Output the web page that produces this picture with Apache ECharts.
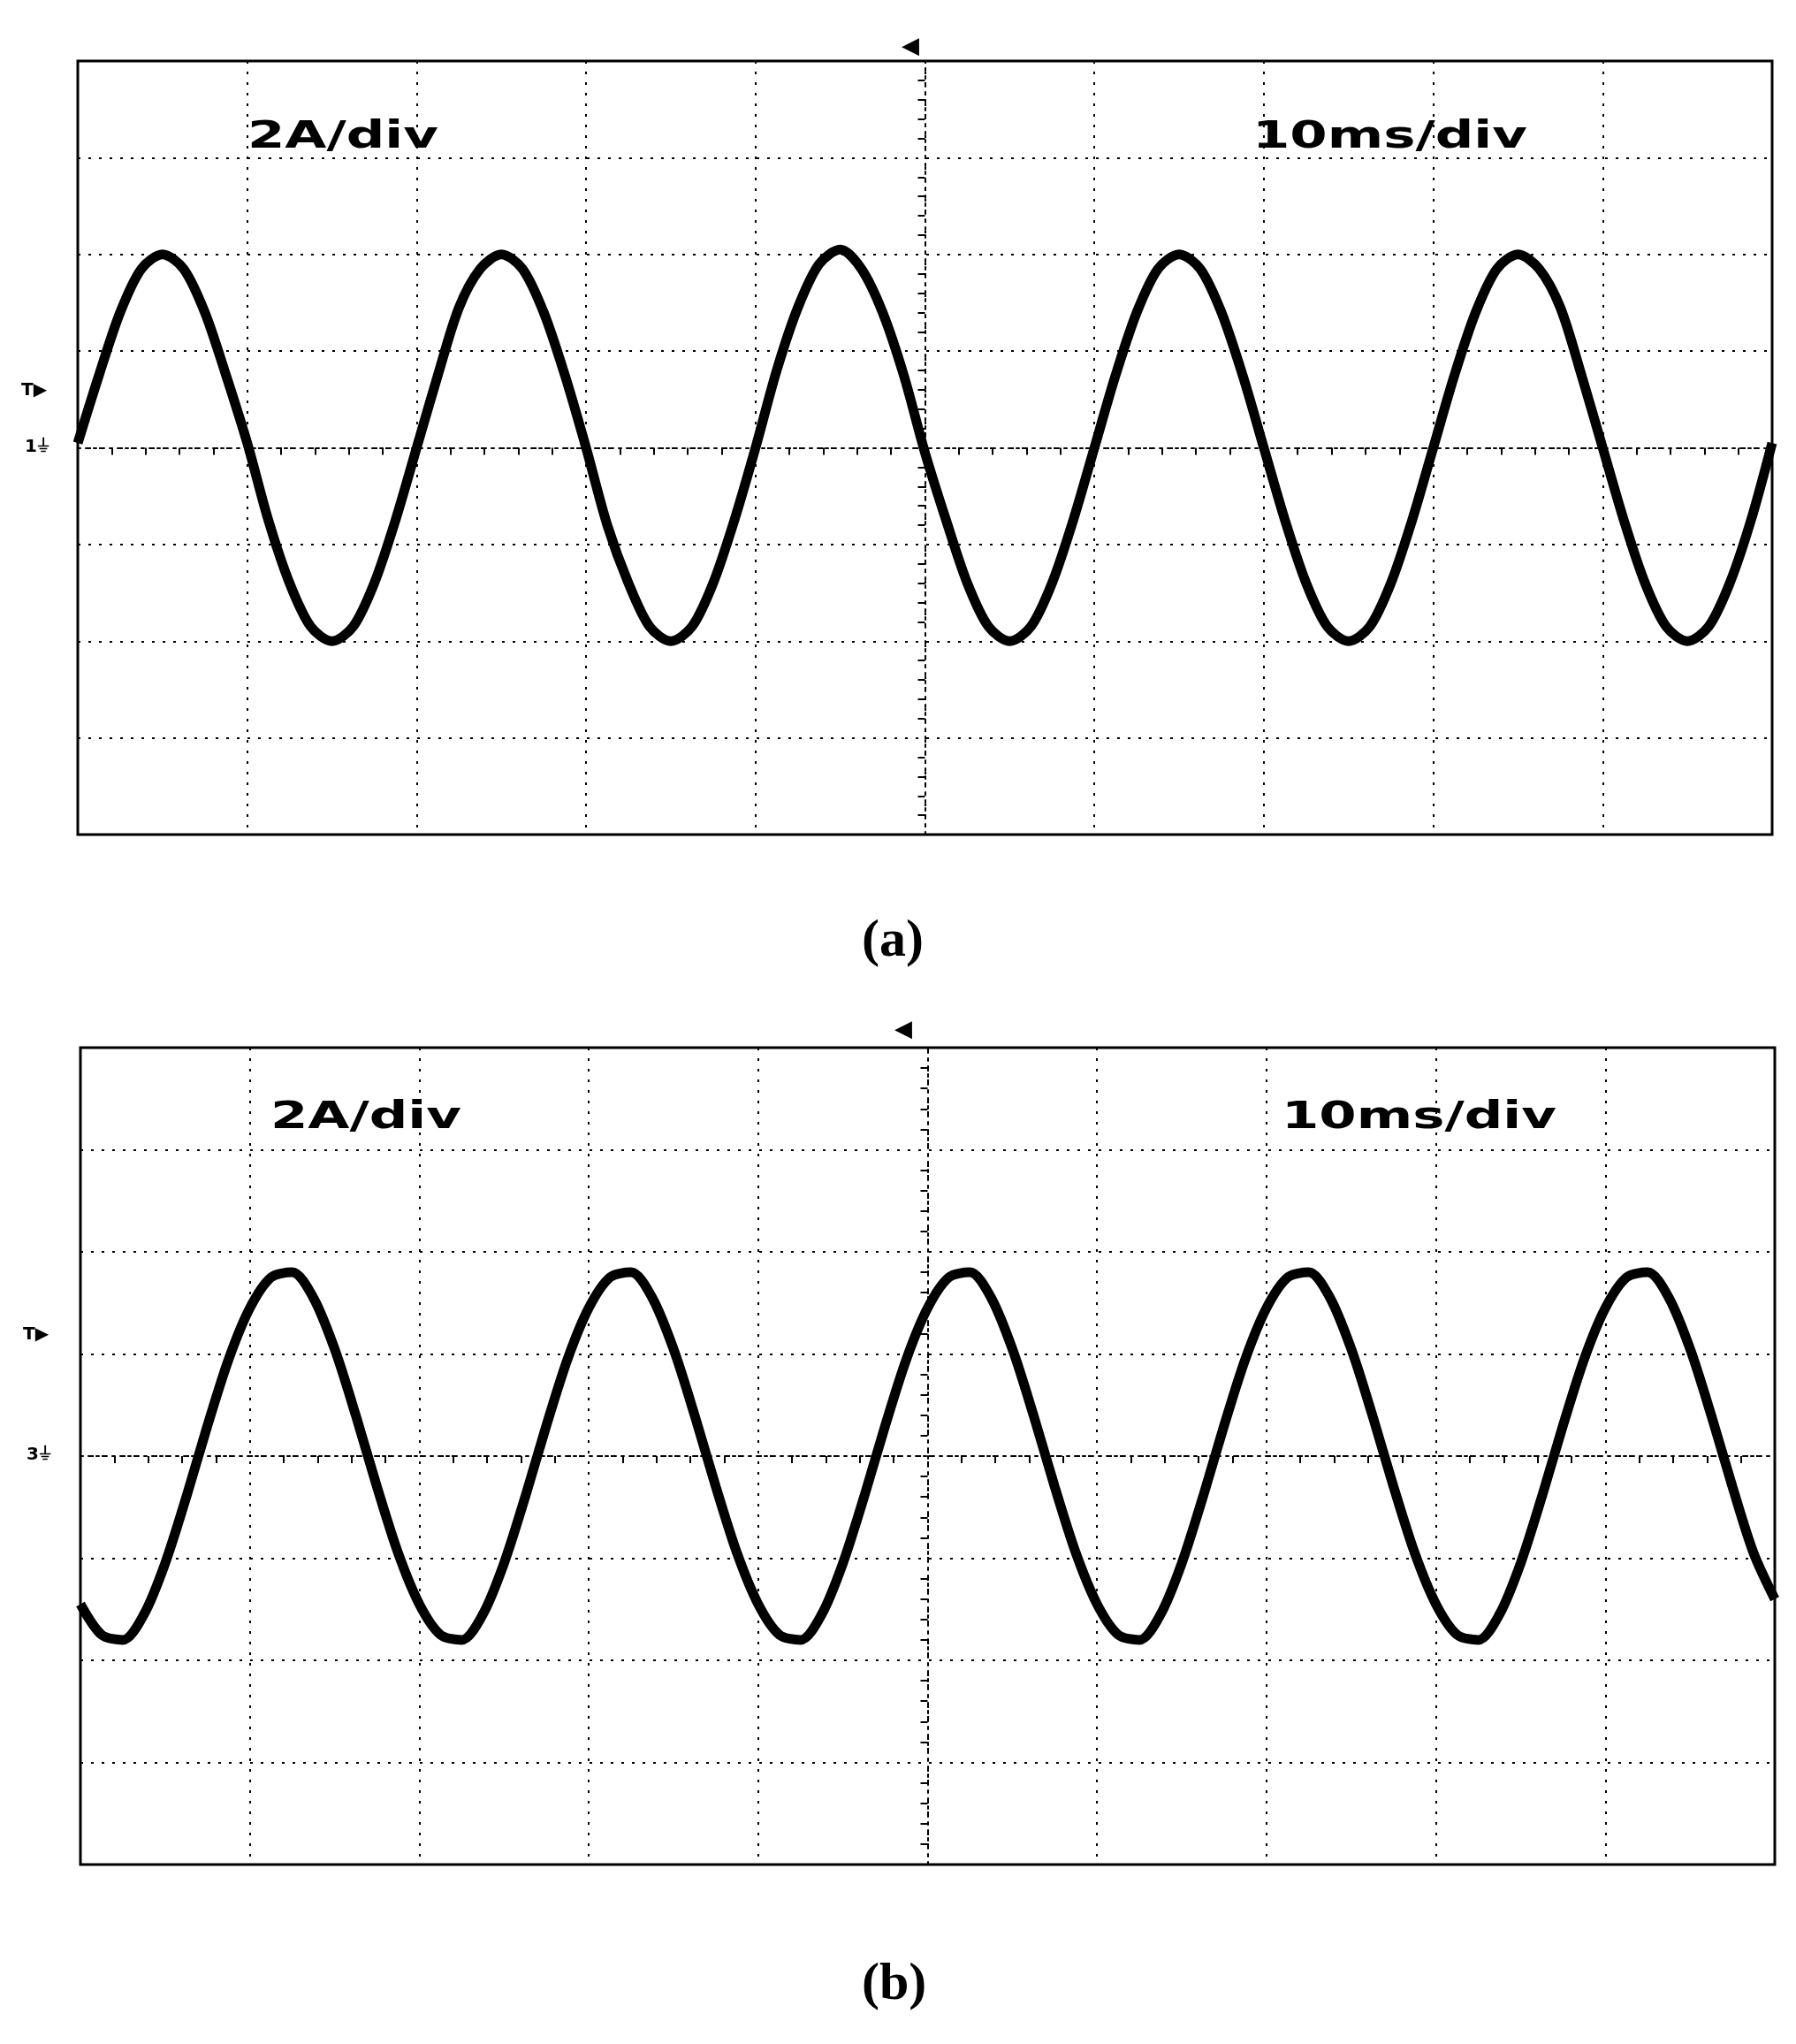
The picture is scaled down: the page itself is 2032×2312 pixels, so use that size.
<!DOCTYPE html>
<html><head><meta charset="utf-8">
<script src="https://cdn.jsdelivr.net/npm/echarts@6/dist/echarts.min.js"></script>
<style>html,body{margin:0;background:#fff}#c{width:2032px;height:2312px}</style>
</head><body><div id="c"></div>
<script>
// time in ms relative to screen centre (-50..50), 1.25 ms steps
const timeMs = [];
for (let i = 0; i <= 80; i++) timeMs.push(-50 + i * 1.25);
// current (A) (a)
const currentA = [
 0.1,1.5,2.8,3.7,4.0,3.7,2.8,1.5,0.1,-1.5,-2.8,-3.7,-4.0,-3.7,-2.8,-1.5,
 0.0,1.5,2.9,3.7,4.0,3.7,2.8,1.5,0.0,-1.6,-2.8,-3.7,-4.0,-3.7,-2.8,-1.5,
 0.0,1.6,2.9,3.8,4.1,3.7,2.8,1.5,-0.1,-1.5,-2.8,-3.7,-4.0,-3.7,-2.8,-1.5,
 0.0,1.5,2.8,3.7,4.0,3.7,2.8,1.5,0.0,-1.5,-2.8,-3.7,-4.0,-3.7,-2.8,-1.5,
 0.0,1.5,2.8,3.7,4.0,3.7,2.9,1.5,0.0,-1.5,-2.8,-3.7,-4.0,-3.7,-2.8,-1.5,0.1];
// current (A) (b)
const currentB = [
 -2.9,-3.5,-3.6,-3.1,-2.1,-0.8,0.6,1.9,2.9,3.5,3.6,3.1,2.1,0.8,-0.6,-1.9,
 -2.9,-3.5,-3.6,-3.1,-2.1,-0.8,0.6,1.9,2.9,3.5,3.6,3.1,2.1,0.8,-0.6,-1.9,
 -2.9,-3.5,-3.6,-3.1,-2.1,-0.8,0.6,1.9,2.9,3.5,3.6,3.1,2.1,0.8,-0.6,-1.9,
 -2.9,-3.5,-3.6,-3.1,-2.1,-0.8,0.6,1.9,2.9,3.5,3.6,3.1,2.1,0.8,-0.6,-1.9,
 -2.9,-3.5,-3.6,-3.1,-2.1,-0.8,0.6,1.9,2.9,3.5,3.6,3.1,2.1,0.8,-0.6,-1.9,-2.8];
const voltsLabel = '2A/div', timeLabel = '10ms/div';

const chart = echarts.init(document.getElementById('c'));
const grids = [
  {left:88, top:69, width:1917, height:875, show:true, borderColor:'#000', borderWidth:3},
  {left:91, top:1185, width:1917, height:924, show:true, borderColor:'#000', borderWidth:3}
];
function xa(i){return {gridIndex:i,type:'value',min:-50,max:50,interval:10,
  axisLabel:{show:false},
  axisLine:{show:true,onZero:true,lineStyle:{color:'#000',type:[3,6],width:2}},
  axisTick:{show:false},
  minorTick:{show:true,splitNumber:5,length:8,lineStyle:{color:'#000',width:2}},
  splitLine:{show:true,lineStyle:{color:'#000',type:[3,9],width:2}}};}
function ya(i){return {gridIndex:i,type:'value',min:-8,max:8,interval:2,
  axisLabel:{show:false},
  axisLine:{show:true,onZero:true,lineStyle:{color:'#000',type:[3,6],width:2}},
  axisTick:{show:false},
  minorTick:{show:true,splitNumber:5,length:8,lineStyle:{color:'#000',width:2}},
  splitLine:{show:true,lineStyle:{color:'#000',type:[3,9],width:2}}};}
function ser(i,d){return {type:'line',xAxisIndex:i,yAxisIndex:i,smooth:0.3,symbol:'none',
  data:timeMs.map((t,k)=>[t,d[k]]),lineStyle:{color:'#000',width:11},animation:false};}
const txt=(x,y,s,size,extra)=>Object.assign({type:'text',left:x,top:y,style:{text:s,fill:'#000',font:size}},extra||{});
const lab=(x,y,s)=>({type:'text',x:x,y:y,scaleX:1.45,style:{text:s,fill:'#000',font:'bold 42px "DejaVu Sans"'}});
chart.setOption({
  animation:false,
  grid:grids, xAxis:[xa(0),xa(1)], yAxis:[ya(0),ya(1)],
  series:[ser(0,currentA),ser(1,currentB)],
  graphic:[
    lab(280,135,voltsLabel),
    lab(1417,135,timeLabel),
    lab(306,1244,voltsLabel),
    lab(1450,1244,timeLabel),
    txt(975,1035,'(a)','bold 60px "Liberation Serif"'),
    txt(975,2215,'(b)','bold 60px "Liberation Serif"'),
    txt(28,496,'1⏚','bold 20px "DejaVu Sans"'),
    txt(30,1636,'3⏚','bold 20px "DejaVu Sans"'),
    txt(24,432,'T▶','bold 20px "DejaVu Sans"'),
    txt(26,1500,'T▶','bold 20px "DejaVu Sans"'),
    txt(1020,40,'◀','bold 26px "DejaVu Sans"'),
    txt(1012,1152,'◀','bold 26px "DejaVu Sans"')
  ]
});
</script></body></html>
